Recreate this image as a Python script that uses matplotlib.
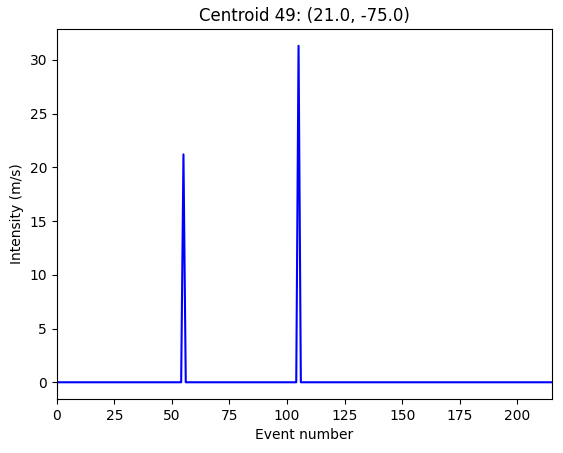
import numpy as np
import matplotlib
matplotlib.use('Agg')
import matplotlib.pyplot as plt

n_events = 216
peak_events = [55, 105]
peak_values = [21.2, 31.3]

intensity = np.zeros(n_events)
for ev, val in zip(peak_events, peak_values):
    intensity[ev] = val
events = np.arange(n_events)

fig = plt.figure(figsize=(5.63, 4.53), dpi=100)
ax = fig.add_axes([0.101, 0.119, 0.879, 0.817])
ax.plot(events, intensity, color='blue')
ax.set_xlim(0, n_events - 1)
ax.set_title('Centroid 49: (21.0, -75.0)')
ax.set_xlabel('Event number')
ax.set_ylabel('Intensity (m/s)')
fig.savefig('out.png', dpi=100)
